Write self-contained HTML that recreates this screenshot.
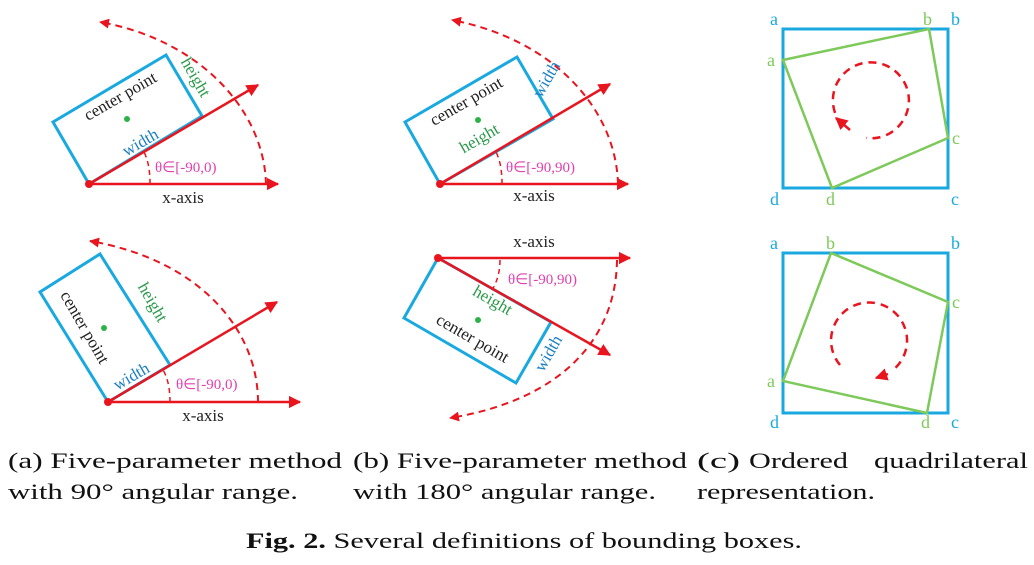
<!DOCTYPE html>
<html><head><meta charset="utf-8"><style>
html,body{margin:0;padding:0;background:#fff;width:1034px;height:565px;overflow:hidden}
svg{display:block}
text{font-family:"Liberation Serif",serif}
.lbl{font-size:17px}
</style></head><body>
<svg width="1034" height="565" viewBox="0 0 1034 565">
<defs>
<marker id="ah" viewBox="0 0 10 10" refX="9" refY="5" markerWidth="5" markerHeight="5" orient="auto"><path d="M0,0L10,5L0,10z" fill="#e8151f"/></marker>
</defs>
<g stroke-linecap="butt" fill="none">
<g>
<polygon points="89,184 53,122 166,55 202,116" stroke="#19a9e0" stroke-width="3"/>
<line x1="89" y1="184" x2="278" y2="184" stroke="#e8151f" stroke-width="2.5" marker-end="url(#ah)"/>
<line x1="89" y1="184" x2="258" y2="85" stroke="#e8151f" stroke-width="2.5" marker-end="url(#ah)"/>
<path d="M266,184 C264,110 200,40 100,22" stroke="#e8151f" stroke-width="2" stroke-dasharray="7,5" marker-end="url(#ah)"/>
<path d="M150,184 C150,170 148,160 144,152" stroke="#e8151f" stroke-width="1.5" stroke-dasharray="5,4"/>
<circle cx="89" cy="184" r="4" fill="#e8151f"/>
<circle cx="127" cy="119" r="3" fill="#2db24a"/>
<text x="123" y="101" class="lbl" fill="#222" text-anchor="middle" transform="rotate(-30 123 101)">center point</text>
<text x="143" y="147" class="lbl" fill="#1b7fc4" text-anchor="middle" transform="rotate(-30 143 147)">width</text>
<text x="191" y="80" class="lbl" fill="#2a9a4a" text-anchor="middle" transform="rotate(60 191 80)">height</text>
<text x="155" y="172" font-size="15" fill="#e040b0">θ∈[-90,0)</text>
<text x="183" y="203" class="lbl" fill="#222" text-anchor="middle">x-axis</text>
</g>
<g>
<polygon points="108,402 40,292 100,254 170,365" stroke="#19a9e0" stroke-width="3"/>
<line x1="108" y1="402" x2="300" y2="402" stroke="#e8151f" stroke-width="2.5" marker-end="url(#ah)"/>
<line x1="108" y1="402" x2="277" y2="302" stroke="#e8151f" stroke-width="2.5" marker-end="url(#ah)"/>
<path d="M258,402 C258,330 200,260 90,241" stroke="#e8151f" stroke-width="2" stroke-dasharray="7,5" marker-end="url(#ah)"/>
<path d="M170,402 C170,390 168,378 163,370" stroke="#e8151f" stroke-width="1.5" stroke-dasharray="5,4"/>
<circle cx="108" cy="402" r="4" fill="#e8151f"/>
<circle cx="104" cy="328" r="3" fill="#2db24a"/>
<text x="80" y="330" class="lbl" fill="#222" text-anchor="middle" transform="rotate(60 80 330)">center point</text>
<text x="148" y="305" class="lbl" fill="#2a9a4a" text-anchor="middle" transform="rotate(60 148 305)">height</text>
<text x="134" y="381" class="lbl" fill="#1b7fc4" text-anchor="middle" transform="rotate(-30 134 381)">width</text>
<text x="176" y="389" font-size="15" fill="#e040b0">θ∈[-90,0)</text>
<text x="203" y="421" class="lbl" fill="#222" text-anchor="middle">x-axis</text>
</g>
<g>
<polygon points="440,184 405,122 517,57 553,119" stroke="#19a9e0" stroke-width="3"/>
<line x1="440" y1="184" x2="628" y2="184" stroke="#e8151f" stroke-width="2.5" marker-end="url(#ah)"/>
<line x1="440" y1="184" x2="610" y2="84" stroke="#e8151f" stroke-width="2.5" marker-end="url(#ah)"/>
<path d="M618,184 C616,110 555,40 452,20" stroke="#e8151f" stroke-width="2" stroke-dasharray="7,5" marker-end="url(#ah)"/>
<path d="M502,184 C502,170 500,160 496,152" stroke="#e8151f" stroke-width="1.5" stroke-dasharray="5,4"/>
<circle cx="440" cy="184" r="4" fill="#e8151f"/>
<circle cx="478" cy="120" r="3" fill="#2db24a"/>
<text x="469" y="106" class="lbl" fill="#222" text-anchor="middle" transform="rotate(-30 469 106)">center point</text>
<text x="482" y="143" class="lbl" fill="#2a9a4a" text-anchor="middle" transform="rotate(-30 482 143)">height</text>
<text x="551" y="82" class="lbl" fill="#1b7fc4" text-anchor="middle" transform="rotate(-60 551 82)">width</text>
<text x="506" y="172" font-size="15" fill="#e040b0">θ∈[-90,90)</text>
<text x="534" y="201" class="lbl" fill="#222" text-anchor="middle">x-axis</text>
</g>
<g>
<polygon points="438,258 404,318 516,383 551,322" stroke="#19a9e0" stroke-width="3"/>
<line x1="438" y1="258" x2="630" y2="258" stroke="#e8151f" stroke-width="2.5" marker-end="url(#ah)"/>
<line x1="438" y1="258" x2="610" y2="355" stroke="#e8151f" stroke-width="2.5" marker-end="url(#ah)"/>
<path d="M617,260 C616,340 560,400 450,418" stroke="#e8151f" stroke-width="2" stroke-dasharray="7,5" marker-end="url(#ah)"/>
<path d="M500,260 C500,272 497,282 492,290" stroke="#e8151f" stroke-width="1.5" stroke-dasharray="5,4"/>
<circle cx="438" cy="258" r="4" fill="#e8151f"/>
<circle cx="478" cy="320" r="3" fill="#2db24a"/>
<text x="490" y="305" class="lbl" fill="#2a9a4a" text-anchor="middle" transform="rotate(30 490 305)">height</text>
<text x="470" y="343" class="lbl" fill="#222" text-anchor="middle" transform="rotate(30 470 343)">center point</text>
<text x="553" y="356" class="lbl" fill="#1b7fc4" text-anchor="middle" transform="rotate(-60 553 356)">width</text>
<text x="508" y="284" font-size="15" fill="#e040b0">θ∈[-90,90)</text>
<text x="534" y="247" class="lbl" fill="#222" text-anchor="middle">x-axis</text>
</g>
<g>
<rect x="783" y="29" width="165" height="159" stroke="#19a9e0" stroke-width="3"/>
<polygon points="783,60 929,29 948,138 832,188" stroke="#7dc95a" stroke-width="2.5"/>
<path d="M842,125 A38,38 0 1 1 866,138" stroke="#e8151f" stroke-width="2.5" stroke-dasharray="8,6"/>
<path d="M850,130 L836,118" stroke="#e8151f" stroke-width="2.5" marker-end="url(#ah)"/>
</g>
<g>
<rect x="783" y="253" width="165" height="160" stroke="#19a9e0" stroke-width="3"/>
<polygon points="831,253 948,302 927,413 783,381" stroke="#7dc95a" stroke-width="2.5"/>
<path d="M840,365 A38,38 0 1 1 893,370" stroke="#e8151f" stroke-width="2.5" stroke-dasharray="8,6"/>
<path d="M888,374 L876,378" stroke="#e8151f" stroke-width="2.5" marker-end="url(#ah)"/>
</g>
</g>
<g font-size="18">
<text x="770" y="25" fill="#19a9e0">a</text><text x="951" y="25" fill="#19a9e0">b</text>
<text x="770" y="205" fill="#19a9e0">d</text><text x="951" y="205" fill="#19a9e0">c</text>
<text x="767" y="66" fill="#7dc95a">a</text><text x="923" y="25" fill="#7dc95a">b</text>
<text x="952" y="144" fill="#7dc95a">c</text><text x="826" y="205" fill="#7dc95a">d</text>
<text x="770" y="249" fill="#19a9e0">a</text><text x="951" y="249" fill="#19a9e0">b</text>
<text x="770" y="428" fill="#19a9e0">d</text><text x="951" y="428" fill="#19a9e0">c</text>
<text x="767" y="387" fill="#7dc95a">a</text><text x="826" y="249" fill="#7dc95a">b</text>
<text x="952" y="308" fill="#7dc95a">c</text><text x="921" y="428" fill="#7dc95a">d</text>
</g>
<g font-size="22" fill="#111">
<text x="8" y="468" textLength="334" lengthAdjust="spacingAndGlyphs">(a) Five-parameter method</text>
<text x="8" y="499" textLength="290" lengthAdjust="spacingAndGlyphs">with 90° angular range.</text>
<text x="353" y="468" textLength="334" lengthAdjust="spacingAndGlyphs">(b) Five-parameter method</text>
<text x="353" y="499" textLength="303" lengthAdjust="spacingAndGlyphs">with 180° angular range.</text>
<text x="697" y="468" textLength="43" lengthAdjust="spacingAndGlyphs">(c)</text>
<text x="749" y="468" textLength="99" lengthAdjust="spacingAndGlyphs">Ordered</text>
<text x="874" y="468" textLength="154" lengthAdjust="spacingAndGlyphs">quadrilateral</text>
<text x="697" y="499" textLength="178" lengthAdjust="spacingAndGlyphs">representation.</text>
<text x="246" y="548" textLength="556" lengthAdjust="spacingAndGlyphs"><tspan font-weight="bold">Fig. 2.</tspan> Several definitions of bounding boxes.</text>
</g>
</svg>
</body></html>
